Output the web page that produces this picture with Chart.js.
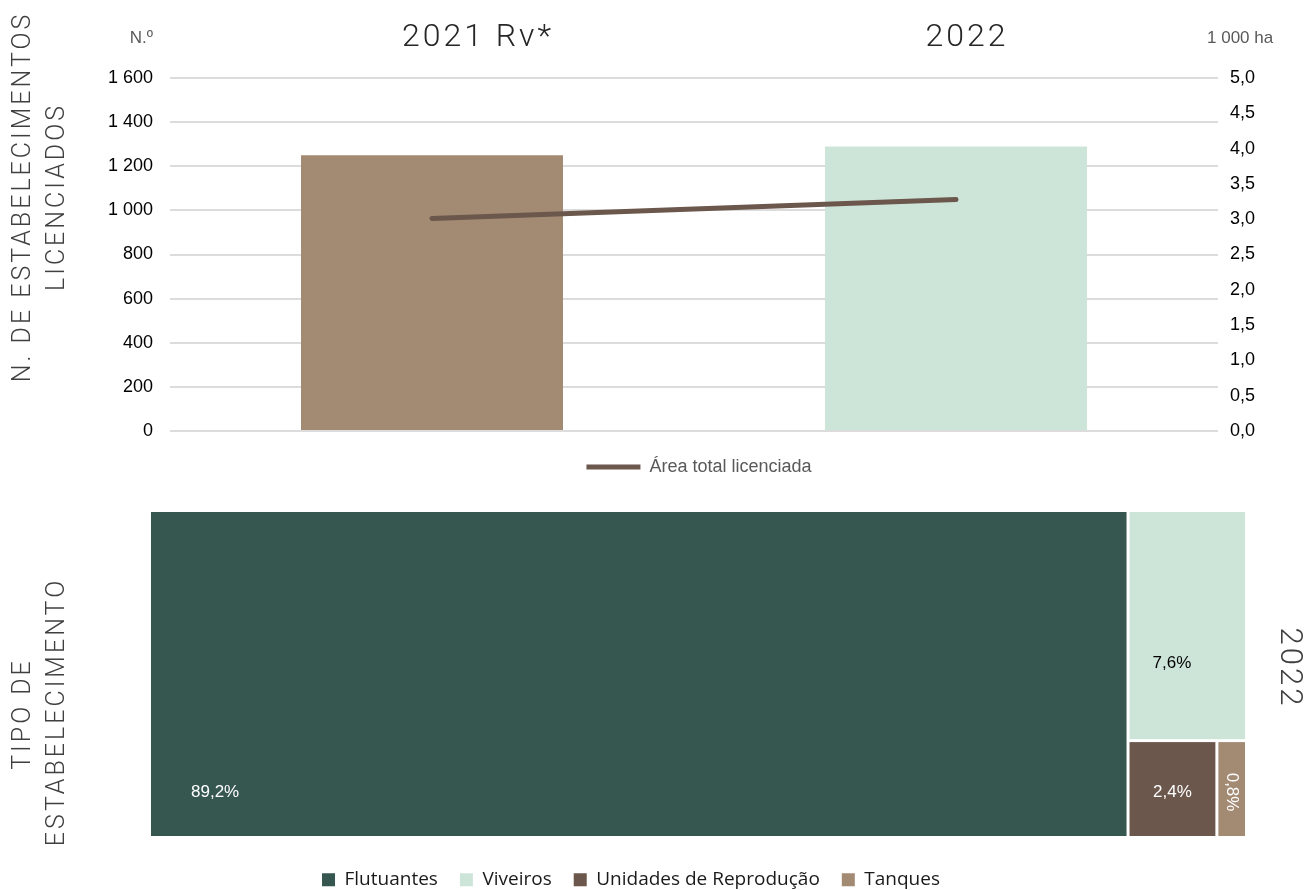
<!DOCTYPE html>
<html>
<head>
<meta charset="utf-8">
<script src="https://cdn.jsdelivr.net/npm/chart.js@4/dist/chart.umd.min.js"></script>
<style>
html,body{margin:0;padding:0;background:#fff;overflow:hidden;width:1306px;height:890px;position:relative}
canvas{position:absolute;left:0}
#c1{top:0}
#c2{top:480px}
</style>
</head>
<body>
<canvas id="c1" width="1306" height="490"></canvas>
<canvas id="c2" width="1306" height="420"></canvas>
<script>
// ---------- data ----------
const years = ['2021 Rv*', '2022'];
const establishments = [1250, 1290];          // N.º
const licensedArea = [3.01, 3.28];            // 1 000 ha
const barColors = ['#A38A73', '#CDE5D9'];
const lineLabel = 'Área total licenciada';
const leftTickStep = 200, leftMax = 1600;
const rightTickStep = 0.5, rightMax = 5;

const types = ['Flutuantes', 'Viveiros', 'Unidades de Reprodução', 'Tanques'];
const typeShares = [89.2, 7.6, 2.4, 0.8];     // % 2022
const typeColors = ['#36574F', '#CDE5D9', '#6B574C', '#A38A73'];
const typeLabelColors = ['#ffffff', '#000000', '#ffffff', '#ffffff'];

// ---------- helpers ----------
const fmtThousands = v => String(v).replace(/\B(?=(\d{3})+(?!\d))/g, ' ');
const fmtDec = (v, d) => v.toFixed(d).replace('.', ',');
const ARIAL = '"Liberation Sans", Arial';

function rotatedText(ctx, text, x, y, angle, align) {
  ctx.save();
  ctx.translate(x, y);
  ctx.rotate(angle);
  ctx.textAlign = align || 'center';
  ctx.fillText(text, 0, 0);
  ctx.restore();
}

// ---------- top chart ----------
const titleShift = [46, 11];
const topDecor = {
  id: 'topDecor',
  afterDraw(chart) {
    const ctx = chart.ctx, xs = chart.scales.x, area = chart.chartArea;
    ctx.save();
    ctx.textBaseline = 'middle';
    // category headings
    ctx.font = '300 32px Roboto';
    ctx.fillStyle = '#262626';
    ctx.letterSpacing = '3px';
    ctx.textAlign = 'center';
    years.forEach((y, i) => ctx.fillText(y, xs.getPixelForValue(i) + titleShift[i], 38));
    // units
    ctx.letterSpacing = '0px';
    ctx.font = '17px ' + ARIAL;
    ctx.fillStyle = '#595959';
    ctx.textAlign = 'right';
    ctx.fillText('N.º', area.left - 17, 38);
    ctx.textAlign = 'left';
    ctx.fillText('1 000 ha', area.right - 11, 38);
    // vertical title
    ctx.font = '300 25px Roboto';
    ctx.fillStyle = '#404040';
    ctx.letterSpacing = '3px';
    rotatedText(ctx, 'N. DE ESTABELECIMENTOS', 24, 197, -Math.PI / 2);
    rotatedText(ctx, 'LICENCIADOS', 58, 197, -Math.PI / 2);
    ctx.restore();
  }
};

new Chart(document.getElementById('c1'), {
  data: {
    labels: years,
    datasets: [
      {
        type: 'bar',
        label: 'N.º de estabelecimentos',
        data: establishments,
        backgroundColor: barColors,
        yAxisID: 'y',
        categoryPercentage: 1,
        barPercentage: 0.5,
        order: 1
      },
      {
        type: 'line',
        label: lineLabel,
        data: licensedArea,
        yAxisID: 'y1',
        borderColor: '#6B574C',
        backgroundColor: '#6B574C',
        borderWidth: 5,
        borderCapStyle: 'round',
        pointRadius: 0,
        pointStyle: 'line',
        tension: 0,
        order: 0
      }
    ]
  },
  options: {
    responsive: false,
    animation: false,
    layout: { padding: { top: 78, left: 92, right: 0, bottom: 4 } },
    plugins: {
      tooltip: { enabled: false },
      legend: {
        position: 'bottom',
        labels: {
          filter: item => item.datasetIndex === 1,
          usePointStyle: true,
          pointStyle: 'line',
          pointStyleWidth: 54,
          padding: 27,
          color: '#595959',
          font: { family: ARIAL, size: 18 }
        }
      }
    },
    scales: {
      x: { display: false },
      y: {
        position: 'left',
        min: 0, max: leftMax,
        afterFit: s => { s.width = 78; },
        ticks: {
          stepSize: leftTickStep,
          padding: 17,
          color: '#000',
          font: { family: ARIAL, size: 18 },
          callback: v => fmtThousands(v)
        },
        grid: { color: '#DCDCDC', lineWidth: 2, drawTicks: false },
        border: { display: false }
      },
      y1: {
        position: 'right',
        min: 0, max: rightMax,
        afterFit: s => { s.width = 88; },
        ticks: {
          stepSize: rightTickStep,
          padding: 12,
          color: '#000',
          font: { family: ARIAL, size: 18 },
          callback: v => fmtDec(v, 1)
        },
        grid: { display: false, drawTicks: false },
        border: { display: false }
      }
    }
  },
  plugins: [topDecor]
});

// ---------- bottom chart (treemap, slice-and-dice) ----------
function sliceLayout(values, x0, y0, x1, y1, dir, out) {
  if (!values.length) return;
  if (values.length === 1) { out.push([x0, y0, x1, y1]); return; }
  const total = values.reduce((a, b) => a + b, 0);
  const f = values[0] / total;
  if (dir === 0) {
    const xm = x0 + (x1 - x0) * f;
    out.push([x0, y0, xm, y1]);
    sliceLayout(values.slice(1), xm, y0, x1, y1, 1, out);
  } else {
    const ym = y1 - (y1 - y0) * f;
    out.push([x0, ym, x1, y1]);
    sliceLayout(values.slice(1), x0, y0, x1, ym, 0, out);
  }
}

// label anchor per cell: [mode, dx, dy, rotate]
const labelAnchors = [
  ['left', 40, 'bottomRow', 0],
  ['left', 23, 151, 0],
  ['center', 0, 'bottomRow', 0],
  ['center', 0, 'bottomRow', Math.PI / 2]
];

const treemap = {
  id: 'treemap',
  afterDraw(chart) {
    const ctx = chart.ctx, xs = chart.scales.x, ys = chart.scales.y;
    const cells = [];
    sliceLayout(typeShares, 0, 0, 100, 100, 0, cells);
    const gap = 1.5;
    const rects = cells.map(c => {
      const l = xs.getPixelForValue(c[0]) + gap, r = xs.getPixelForValue(c[2]) - gap;
      const t = ys.getPixelForValue(c[3]) + gap, b = ys.getPixelForValue(c[1]) - gap;
      return { l, r, t, b };
    });
    ctx.save();
    rects.forEach((rc, i) => {
      ctx.fillStyle = typeColors[i];
      ctx.fillRect(rc.l, rc.t, rc.r - rc.l, rc.b - rc.t);
    });
    const bottomRowY = (rects[2].t + rects[2].b) / 2 + 3;
    ctx.font = '17px ' + ARIAL;
    ctx.textBaseline = 'middle';
    rects.forEach((rc, i) => {
      const a = labelAnchors[i];
      const txt = fmtDec(typeShares[i], 1) + '%';
      const y = a[2] === 'bottomRow' ? bottomRowY : rc.t + a[2];
      const x = a[0] === 'left' ? rc.l + a[1] : (rc.l + rc.r) / 2;
      ctx.fillStyle = typeLabelColors[i];
      if (a[3]) rotatedText(ctx, txt, x, y, a[3], 'center');
      else { ctx.textAlign = a[0]; ctx.fillText(txt, x, y); }
    });
    // side titles
    ctx.font = '300 25px Roboto';
    ctx.fillStyle = '#404040';
    ctx.letterSpacing = '3px';
    rotatedText(ctx, 'TIPO DE', 24, 714 - 480, -Math.PI / 2, 'center');
    rotatedText(ctx, 'ESTABELECIMENTO', 58, 712 - 480, -Math.PI / 2, 'center');
    ctx.font = '300 31px Roboto';
    ctx.letterSpacing = '3px';
    rotatedText(ctx, '2022', 1289, 668 - 480, Math.PI / 2, 'center');
    ctx.restore();
  }
};

new Chart(document.getElementById('c2'), {
  type: 'scatter',
  data: {
    datasets: types.map((t, i) => ({
      label: t,
      data: [],
      backgroundColor: typeColors[i],
      borderWidth: 0
    }))
  },
  options: {
    responsive: false,
    animation: false,
    layout: { padding: { top: 30.5, left: 0, right: 44, bottom: 0.7 } },
    plugins: {
      tooltip: { enabled: false },
      legend: {
        position: 'bottom',
        title: { display: true, text: ' ', font: { size: 9 }, padding: 0 },
        labels: {
          boxWidth: 13,
          boxHeight: 13,
          padding: 22,
          color: '#1a1a1a',
          font: { family: '"Open Sans"', size: 19 },
          generateLabels: () => types.map((t, i) => ({
            text: t, fillStyle: typeColors[i], strokeStyle: typeColors[i],
            lineWidth: 0, hidden: false, datasetIndex: i, fontColor: '#1a1a1a'
          }))
        }
      }
    },
    scales: {
      x: { type: 'linear', min: 0, max: 100, display: false },
      y: {
        type: 'linear', position: 'left', min: 0, max: 100,
        afterFit: s => { s.width = 149.5; },
        ticks: { display: false }, grid: { display: false }, border: { display: false }
      },
      yr: {
        type: 'linear', position: 'right', min: 0, max: 100,
        afterFit: s => { s.width = 15.5; },
        ticks: { display: false }, grid: { display: false }, border: { display: false }
      }
    }
  },
  plugins: [treemap]
});
</script>
</body>
</html>
